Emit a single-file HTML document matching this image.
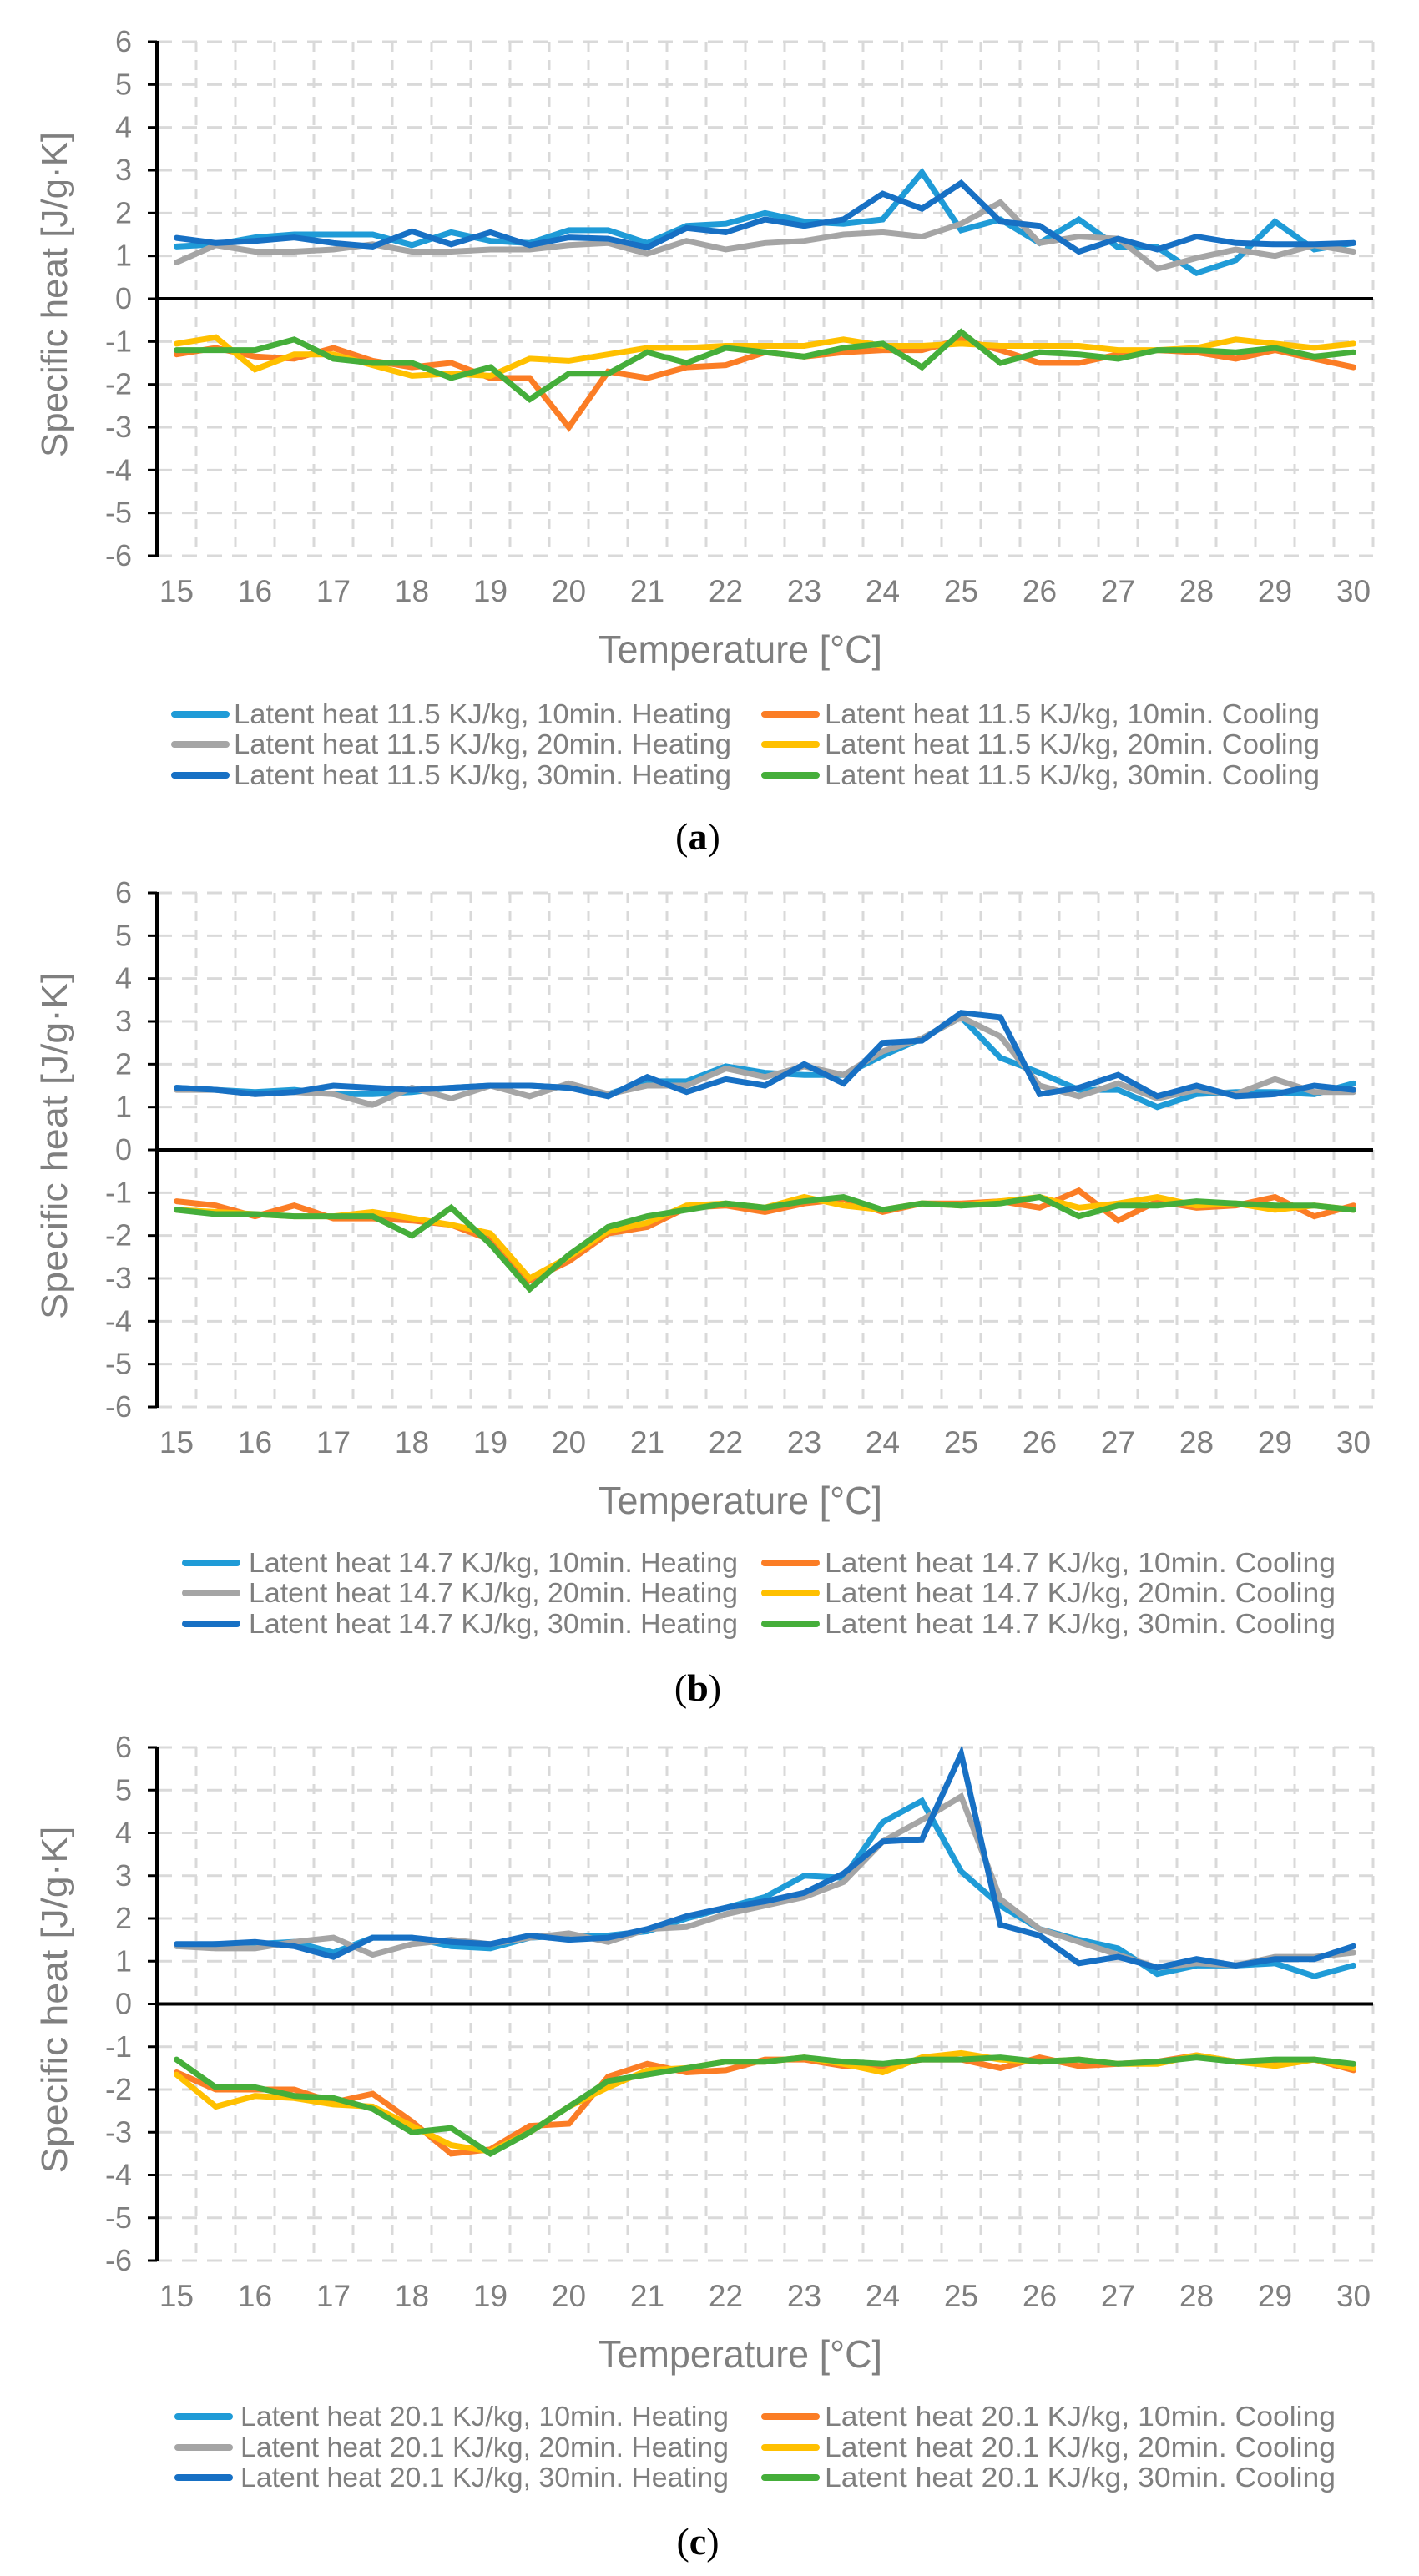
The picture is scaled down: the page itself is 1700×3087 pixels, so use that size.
<!DOCTYPE html>
<html><head><meta charset="utf-8"><style>
html,body{margin:0;padding:0;background:#fff;}
svg{display:block;}
</style></head><body>
<svg id="fig" width="1700" height="3087" viewBox="0 0 1700 3087" xmlns="http://www.w3.org/2000/svg"></svg>
<script>
const categories = [15,15.5,16,16.5,17,17.5,18,18.5,19,19.5,20,20.5,21,21.5,22,22.5,23,23.5,24,24.5,25,25.5,26,26.5,27,27.5,28,28.5,29,29.5,30];
const xTickLabels = ["15","16","17","18","19","20","21","22","23","24","25","26","27","28","29","30"];
const yTickValues = [-6,-5,-4,-3,-2,-1,0,1,2,3,4,5,6];
const seriesMinutes = ["10min.","20min.","30min."];
const latentHeats = ["11.5","14.7","20.1"];
const panelLabels = ["a","b","c"];

// chart (a)
const a_h10 = [1.22,1.27,1.43,1.5,1.5,1.5,1.25,1.55,1.35,1.3,1.6,1.6,1.3,1.7,1.75,2.0,1.8,1.75,1.85,2.95,1.6,1.85,1.3,1.85,1.2,1.2,0.6,0.9,1.8,1.15,1.3];
const a_h20 = [0.85,1.25,1.1,1.1,1.15,1.27,1.1,1.1,1.15,1.15,1.25,1.3,1.05,1.35,1.15,1.3,1.35,1.5,1.55,1.45,1.75,2.25,1.3,1.45,1.4,0.7,0.95,1.15,1.0,1.25,1.1];
const a_h30 = [1.42,1.3,1.35,1.43,1.3,1.22,1.57,1.27,1.55,1.25,1.43,1.4,1.2,1.65,1.55,1.85,1.7,1.85,2.45,2.1,2.7,1.8,1.7,1.1,1.4,1.15,1.45,1.3,1.27,1.27,1.3];
const a_c10 = [-1.3,-1.15,-1.35,-1.4,-1.15,-1.45,-1.6,-1.5,-1.85,-1.85,-3.0,-1.7,-1.85,-1.6,-1.55,-1.25,-1.35,-1.25,-1.2,-1.2,-0.95,-1.2,-1.5,-1.5,-1.3,-1.2,-1.25,-1.4,-1.2,-1.4,-1.6];
const a_c20 = [-1.05,-0.9,-1.65,-1.3,-1.3,-1.55,-1.8,-1.75,-1.8,-1.4,-1.45,-1.3,-1.15,-1.15,-1.1,-1.1,-1.1,-0.95,-1.1,-1.1,-1.05,-1.1,-1.1,-1.1,-1.2,-1.2,-1.15,-0.95,-1.05,-1.15,-1.05];
const a_c30 = [-1.2,-1.2,-1.2,-0.95,-1.4,-1.5,-1.5,-1.85,-1.6,-2.35,-1.75,-1.75,-1.25,-1.5,-1.15,-1.25,-1.35,-1.15,-1.05,-1.6,-0.78,-1.5,-1.25,-1.3,-1.4,-1.2,-1.2,-1.25,-1.15,-1.35,-1.25];
// chart (b)
const b_h10 = [1.45,1.4,1.35,1.4,1.3,1.3,1.35,1.45,1.5,1.5,1.45,1.3,1.6,1.6,1.95,1.8,1.75,1.75,2.2,2.6,3.1,2.15,1.8,1.4,1.4,1.0,1.3,1.35,1.35,1.3,1.55];
const b_h20 = [1.4,1.4,1.3,1.35,1.3,1.05,1.45,1.2,1.5,1.25,1.55,1.3,1.5,1.5,1.9,1.7,1.95,1.75,2.3,2.6,3.1,2.65,1.5,1.25,1.55,1.2,1.4,1.3,1.65,1.35,1.35];
const b_h30 = [1.45,1.4,1.3,1.35,1.5,1.45,1.4,1.45,1.5,1.5,1.45,1.25,1.7,1.35,1.65,1.5,2.0,1.55,2.5,2.55,3.2,3.1,1.3,1.45,1.75,1.25,1.5,1.25,1.3,1.5,1.4];
const b_c10 = [-1.2,-1.3,-1.55,-1.3,-1.6,-1.6,-1.65,-1.75,-2.1,-3.05,-2.6,-1.95,-1.8,-1.35,-1.3,-1.45,-1.25,-1.15,-1.45,-1.25,-1.25,-1.2,-1.35,-0.95,-1.65,-1.2,-1.35,-1.3,-1.1,-1.55,-1.3];
const b_c20 = [-1.4,-1.45,-1.5,-1.55,-1.55,-1.45,-1.6,-1.75,-1.95,-3.0,-2.5,-1.9,-1.7,-1.3,-1.25,-1.35,-1.1,-1.3,-1.4,-1.25,-1.3,-1.2,-1.1,-1.35,-1.25,-1.1,-1.3,-1.25,-1.4,-1.3,-1.4];
const b_c30 = [-1.4,-1.5,-1.5,-1.55,-1.55,-1.55,-2.0,-1.35,-2.2,-3.25,-2.45,-1.8,-1.55,-1.4,-1.25,-1.35,-1.2,-1.1,-1.4,-1.25,-1.3,-1.25,-1.1,-1.55,-1.3,-1.3,-1.2,-1.25,-1.3,-1.3,-1.4];
// chart (c)
const c_h10 = [1.35,1.4,1.4,1.45,1.2,1.55,1.55,1.35,1.3,1.55,1.6,1.6,1.7,2.0,2.25,2.5,3.0,2.95,4.25,4.75,3.1,2.3,1.75,1.5,1.3,0.7,0.9,0.9,0.95,0.65,0.9];
const c_h20 = [1.35,1.3,1.3,1.45,1.55,1.15,1.4,1.5,1.4,1.55,1.65,1.45,1.75,1.8,2.1,2.3,2.5,2.85,3.8,4.3,4.85,2.45,1.75,1.45,1.15,0.85,0.95,0.9,1.1,1.1,1.2];
const c_h30 = [1.4,1.4,1.45,1.35,1.1,1.55,1.55,1.45,1.4,1.6,1.5,1.55,1.75,2.05,2.25,2.4,2.6,3.05,3.8,3.85,5.85,1.85,1.6,0.95,1.1,0.85,1.05,0.9,1.05,1.05,1.35];
const c_c10 = [-1.6,-2.0,-2.0,-2.0,-2.3,-2.1,-2.75,-3.5,-3.4,-2.85,-2.8,-1.7,-1.4,-1.6,-1.55,-1.3,-1.3,-1.45,-1.45,-1.3,-1.3,-1.5,-1.25,-1.45,-1.4,-1.35,-1.2,-1.35,-1.35,-1.3,-1.55];
const c_c20 = [-1.65,-2.4,-2.15,-2.2,-2.35,-2.4,-2.85,-3.3,-3.45,-3.0,-2.4,-1.95,-1.55,-1.5,-1.35,-1.35,-1.25,-1.4,-1.6,-1.25,-1.15,-1.3,-1.35,-1.3,-1.4,-1.4,-1.2,-1.35,-1.45,-1.3,-1.5];
const c_c30 = [-1.3,-1.95,-1.95,-2.15,-2.2,-2.45,-3.0,-2.9,-3.5,-3.0,-2.4,-1.8,-1.65,-1.5,-1.35,-1.35,-1.25,-1.35,-1.4,-1.3,-1.3,-1.25,-1.35,-1.3,-1.4,-1.35,-1.25,-1.35,-1.3,-1.3,-1.4];

const NS = "http://www.w3.org/2000/svg";
const svg = document.getElementById('fig');
function mk(tag, attrs, parent, text){
  const e = document.createElementNS(NS, tag);
  for (const k in attrs) e.setAttribute(k, attrs[k]);
  if (text !== undefined) e.textContent = text;
  (parent || svg).appendChild(e);
  return e;
}
const COL = {h10:'#1f9bd7', h20:'#a5a5a5', h30:'#1770c4', c10:'#fb7d25', c20:'#ffc000', c30:'#45ae3a'};
const GRAY = '#7f7f7f';
const FONT = '"Liberation Sans", sans-serif';

const panels = [
  {top:50, bottom:666, data:{h10:a_h10,h20:a_h20,h30:a_h30,c10:a_c10,c20:a_c20,c30:a_c30}, legL:[205,280,876], legR:[988,1581], legY:[867,903,940], tall:390},
  {top:1070, bottom:1686, data:{h10:b_h10,h20:b_h20,h30:b_h30,c10:b_c10,c20:b_c20,c30:b_c30}, legL:[218,298,884], legR:[988,1600], legY:[1884,1920,1957], tall:416},
  {top:2094, bottom:2709, data:{h10:c_h10,h20:c_h20,h30:c_h30,c10:c_c10,c20:c_c20,c30:c_c30}, legL:[209,288,873], legR:[988,1600], legY:[2907,2944,2980], tall:416}
];
const X0 = 188, CW = 47, XN = categories.length;
function xPos(i){ return X0 + CW/2 + CW*i; }

panels.forEach((p, pi) => {
  const g = mk('g', {});
  
  
  const yScale = v => p.bottom - (v + 6) * (p.bottom - p.top) / 12;
  const X1 = X0 + CW * XN;
  // vertical grid
  for (let k = 1; k <= XN; k++) {
    const l = mk('line', {x1:X0+CW*k, x2:X0+CW*k, y1:p.top, y2:p.bottom, stroke:'#d9d9d9', 'stroke-width':3, 'stroke-dasharray':'12,10'}, g);
    
    
  }
  // horizontal grid + y ticks
  yTickValues.forEach(v => {
    const y = yScale(v);
    if (v !== 0) {
      const l = mk('line', {x1:X0, x2:X1, y1:y, y2:y, stroke:'#d9d9d9', 'stroke-width':3, 'stroke-dasharray':'18,12'}, g);
      
      
    }
    mk('line', {x1:X0-11, x2:X0, y1:y, y2:y, stroke:'#000', 'stroke-width':3}, g);
    const t = mk('text', {x:158, y:y+12, 'text-anchor':'end', 'font-family':FONT, 'font-size':36, fill:GRAY}, g, String(v));
    
    
  });
  // x tick labels
  xTickLabels.forEach((lab, k) => {
    const t = mk('text', {x:xPos(k*2), y:p.bottom+55, 'text-anchor':'middle', 'font-family':FONT, 'font-size':37, fill:GRAY}, g, lab);
    
    
  });
  // axes
  const ya = mk('line', {x1:X0, x2:X0, y1:p.top-1, y2:p.bottom+1, stroke:'#000', 'stroke-width':4}, g);
  
  
  const za = mk('line', {x1:X0, x2:X1, y1:yScale(0), y2:yScale(0), stroke:'#000', 'stroke-width':4}, g);
  
  
  // series
  ['h10','c10','h20','c20','h30','c30'].forEach(key => {
    const vals = p.data[key];
    const pts = vals.map((v, i) => xPos(i).toFixed(1) + ',' + yScale(v).toFixed(1)).join(' ');
    const pl = mk('polyline', {points:pts, fill:'none', stroke:COL[key], 'stroke-width':7, 'stroke-linejoin':'miter', 'stroke-linecap':'round'}, g);
    
    
  });
  // y title
  const cy = (p.top + p.bottom) / 2 - 5;
  const yt = mk('text', {x:0, y:0, transform:'translate(80,' + cy + ') rotate(-90)', 'text-anchor':'middle', 'font-family':FONT, 'font-size':44, fill:GRAY, textLength:p.tall, lengthAdjust:'spacingAndGlyphs'}, g, 'Specific heat [J/g\u00B7K]');
  
  
  // x title
  const xt = mk('text', {x:717, y:p.bottom+128, 'font-family':FONT, 'font-size':46, fill:GRAY, textLength:340, lengthAdjust:'spacingAndGlyphs'}, g, 'Temperature [\u00B0C]');
  
  
  // legend
  const lh = latentHeats[pi];
  [['h','Heating'],['c','Cooling']].forEach((mode, col) => {
    seriesMinutes.forEach((mins, r) => {
      const key = mode[0] + ['10','20','30'][r];
      const y = p.legY[r];
      const sx = col === 0 ? p.legL[0] : 912;
      const tx = col === 0 ? p.legL[1] : p.legR[0];
      const te = col === 0 ? p.legL[2] : p.legR[1];
      const eg = mk('g', {}, g);
      
      
      mk('line', {x1:sx+4, x2:sx+66, y1:y-11, y2:y-11, stroke:COL[key], 'stroke-width':8, 'stroke-linecap':'round'}, eg);
      mk('text', {x:tx, y:y, 'font-family':FONT, 'font-size':33, fill:GRAY, textLength:te-tx, lengthAdjust:'spacingAndGlyphs'}, eg, 'Latent heat ' + lh + ' KJ/kg, ' + mins + ' ' + mode[1]);
    });
  });
  // panel label
  const pl = mk('text', {x:836, y:p.bottom+352, 'text-anchor':'middle', 'font-family':'"Liberation Serif", serif', 'font-size':46, fill:'#000'}, g);
  
  
  mk('tspan', {}, pl, '(');
  mk('tspan', {'font-weight':'bold'}, pl, panelLabels[pi]);
  mk('tspan', {}, pl, ')');
});
</script>
</body></html>
